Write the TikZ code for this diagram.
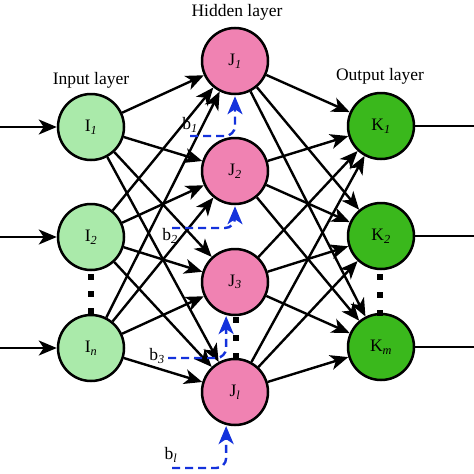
\documentclass[tikz,border=0pt]{standalone}
\usepackage{fontspec}
\setmainfont{Liberation Serif}
\usetikzlibrary{arrows.meta}

\definecolor{inputgreen}{RGB}{170,234,170}
\definecolor{hiddenpink}{RGB}{240,130,178}
\definecolor{outputgreen}{RGB}{58,184,28}
\definecolor{biasblue}{RGB}{20,50,220}

\newcommand{\sub}[1]{\textsubscript{\textit{#1}}}

\begin{document}
\begin{tikzpicture}[x=1pt, y=-1pt,
  every node/.append style={font=\fontsize{17.5}{20}\selectfont},
  neuron/.style={circle, draw=black, line width=2.5pt, minimum size=66pt, inner sep=0pt},
  link/.style={line width=2.4pt, -{Stealth[length=18pt, width=15pt, inset=5pt]}},
  bias/.style={draw=biasblue, line width=2.4pt, dash pattern=on 8pt off 5pt, rounded corners=10pt,
    -{Stealth[length=18pt, width=15pt, inset=5pt, sep=1pt]}},
  sqdot/.style={rectangle, fill=black, minimum size=5.5pt, inner sep=0pt}]

\useasboundingbox (0, 0) rectangle (474, 474);

% layers
\node (inlab) at (91, 80) {Input layer};
\node (hidlab) at (237, 12) {Hidden layer};
\node (outlab) at (380, 76) {Output layer};

\node [neuron, fill=inputgreen] (I1) at (91, 127) {I\sub{1}};
\node [neuron, fill=inputgreen] (I2) at (91, 237) {I\sub{2}};
\node [neuron, fill=inputgreen] (In) at (91, 348) {I\sub{n}};

\node [neuron, fill=hiddenpink] (J1) at (235, 61) {J\sub{1}};
\node [neuron, fill=hiddenpink] (J2) at (235, 171) {J\sub{2}};
\node [neuron, fill=hiddenpink] (J3) at (235, 282) {J\sub{3}};
\node [neuron, fill=hiddenpink] (Jl) at (235, 392) {J\sub{l}};

\node [neuron, fill=outputgreen] (K1) at (381, 126) {K\sub{1}};
\node [neuron, fill=outputgreen] (K2) at (381, 236) {K\sub{2}};
\node [neuron, fill=outputgreen] (Km) at (381, 347) {K\sub{m}};

% dots
\node [sqdot] (dI1) at (91, 277) {};
\node [sqdot] (dI2) at (91, 294) {};
\node [sqdot] (dI3) at (91, 311) {};
\node [sqdot] (dJ1) at (236, 320) {};
\node [sqdot] (dJ2) at (236, 338) {};
\node [sqdot] (dJ3) at (236, 356) {};
\node [sqdot] (dK1) at (380, 277) {};
\node [sqdot] (dK2) at (380, 295) {};
\node [sqdot] (dK3) at (380, 313) {};

% inputs and outputs
\coordinate (x1) at (0, 127);
\coordinate (x2) at (0, 237);
\coordinate (xn) at (0, 348);
\coordinate (y1) at (474, 126);
\coordinate (y2) at (474, 236);
\coordinate (ym) at (474, 347);

\draw [link] (x1) to (I1);
\draw [link] (x2) to (I2);
\draw [link] (xn) to (In);
\draw [line width=2.4pt] (K1) to (y1);
\draw [line width=2.4pt] (K2) to (y2);
\draw [line width=2.4pt] (Km) to (ym);

% input -> hidden
\draw [link] (I1) to (J1);
\draw [link] (I1) to (J2);
\draw [link] (I1) to (J3);
\draw [link] (I1) to (Jl);
\draw [link] (I2) to (J1);
\draw [link] (I2) to (J2);
\draw [link] (I2) to (J3);
\draw [link] (I2) to (Jl);
\draw [link] (In) to (J1);
\draw [link] (In) to (J2);
\draw [link] (In) to (J3);
\draw [link] (In) to (Jl);

% hidden -> output
\draw [link] (J1) to (K1);
\draw [link] (J1) to (K2);
\draw [link] (J1) to (Km);
\draw [link] (J2) to (K1);
\draw [link] (J2) to (K2);
\draw [link] (J2) to (Km);
\draw [link] (J3) to (K1);
\draw [link] (J3) to (K2);
\draw [link] (J3) to (Km);
\draw [link] (Jl) to (K1);
\draw [link] (Jl) to (K2);
\draw [link] (Jl) to (Km);

% biases
\node (b1) at (190, 125) {b\sub{1}};
\node (b2) at (170, 236) {b\sub{2}};
\node (b3) at (157, 356) {b\sub{3}};
\node (bl) at (171, 455) {b\sub{l}};

\coordinate (s1) at (190, 136);
\coordinate (s2) at (172, 228);
\coordinate (s3) at (168, 358);
\coordinate (sl) at (172, 468);

\draw [bias] (s1) -| (J1.south);
\draw [bias] (s2) -| (J2.south);
\draw [bias] (s3) -| (J3.-105);
\draw [bias] (sl) -| (Jl.-105);

\end{tikzpicture}
\end{document}
